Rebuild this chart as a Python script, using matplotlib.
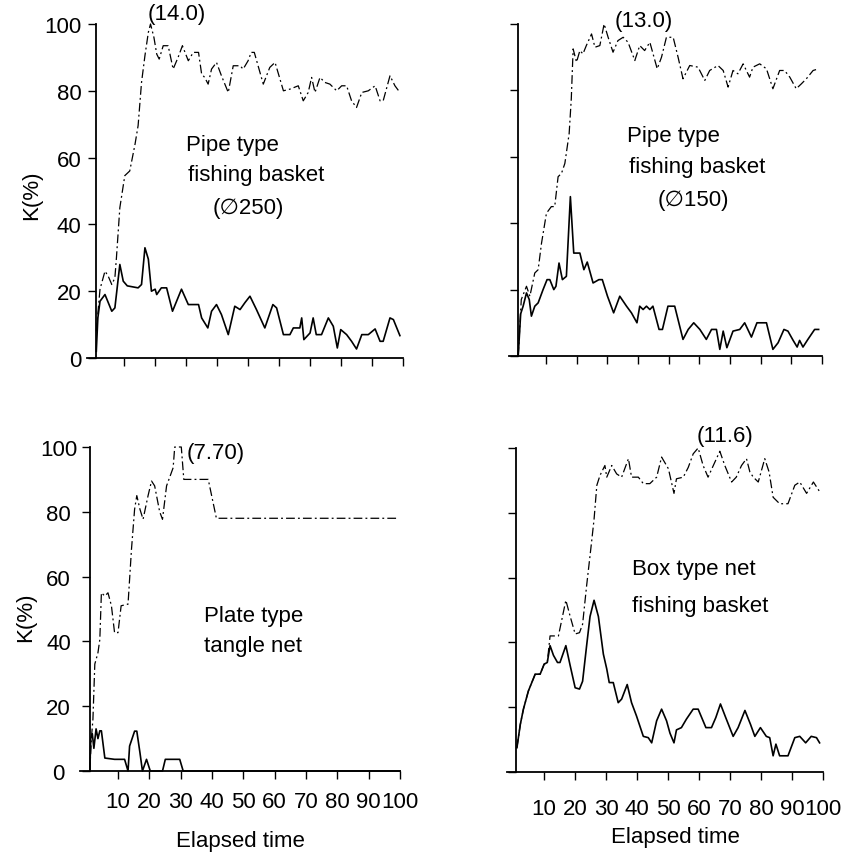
import matplotlib.pyplot as plt
import numpy as np

plt.rcParams['font.family'] = ['Liberation Sans', 'DejaVu Sans']

# ---- Pipe type fishing basket (phi 250) ----
t_p250_solid = [1, 1.5, 2.2, 3.8, 6, 7, 8.6, 9.7, 11, 14.5, 15.6, 16.7, 17.8, 18.8, 20, 20.5,
                22, 23.7, 25.6, 28.5, 30.7, 34, 35, 37, 38.2, 39.8, 41.4, 43.6, 45.7, 47.4,
                49, 50.6, 52.7, 55.4, 58, 59.2, 61.4, 63.5, 64.6, 66.7, 67.3, 68, 70, 71, 72,
                73.7, 75.9, 77.5, 78.8, 79.9, 81.8, 83.4, 85, 86.7, 88.8, 91, 92.6, 93.6,
                95.8, 96.9, 99]
k_p250_solid = [2, 12, 17, 19, 14, 15, 28, 23, 21.6, 21, 22, 33, 29.6, 20, 20.6, 19,
                21, 21, 14, 20.6, 16, 16, 12, 9, 14, 16, 13, 7, 15.5, 14.5,
                16.6, 18.5, 14.5, 9, 16, 15, 7, 7, 9, 9, 12, 5.5, 7.5, 12, 7,
                7, 12, 9.5, 3, 8.5, 7, 5, 2.7, 7, 7, 8.7, 5, 5,
                12, 11.5, 6.7]
t_p250_dash = [1, 2.2, 3.8, 4.8, 6, 7, 7.5, 8.6, 10.2, 11.8, 13.5, 14.5, 15.6, 16.7, 17.8,
               18.5, 19.6, 20.5, 21.3, 22.6, 24.2, 25.8, 27.4, 28.8, 30.7, 32.3, 34, 35,
               36, 37.1, 38.2, 39.8, 41.4, 43.6, 45.2, 47.4, 48.4, 50, 51, 52, 54.9, 57,
               58.7, 61.4, 63.5, 66.2, 67.8, 69.4, 70.5, 71.6, 73.2, 74.8, 76.4, 78.6,
               80.2, 81.8, 83.4, 85, 86.7, 88.8, 91, 92.6, 93.6, 95.8, 97.4, 99]
k_p250_dash = [8, 20.6, 26, 24.6, 22, 24, 30, 45, 54.6, 56, 64, 69.6, 82.5, 90.5, 97.5,
               100, 96, 91, 89.5, 93.5, 93.5, 86.5, 90, 93.5, 89, 91.5, 91.5, 85,
               84, 82, 86.5, 88.5, 84.5, 79.5, 87.5, 87.5, 86.5, 89, 91.5, 91.5, 82, 87,
               88.5, 80, 80.5, 81.5, 77, 79.5, 84, 79.5, 84, 82.5, 82, 80,
               81.5, 81.5, 77, 75, 79.5, 80, 81.5, 77, 77, 84.5, 81.5, 79.5]

# ---- Pipe type fishing basket (phi 150) ----
t_p150_solid = [1, 1.8, 2.6, 3.7, 4.6, 5.3, 6.4, 7.5, 9.1, 10.4, 11.3, 12.6, 13.3, 14.3,
                15.4, 16.7, 18, 19.1, 21.1, 22.4, 23.5, 25.4, 27.3, 28.4, 30.1, 32.1, 34.1,
                36.3, 37.9, 39.7, 40.6, 41.7, 42.8, 43.9, 44.9, 46.9, 48, 49.8, 52, 54.7,
                56.4, 58.2, 60.2, 62.3, 64, 65.6, 66.7, 67.8, 69, 71, 73.2, 74.8, 77, 78.8,
                81.9, 84, 85.7, 87.6, 88.9, 90.6, 91.9, 92.7, 93.8, 95.4, 97.6, 98.9]
k_p150_solid = [0, 12.7, 15, 19, 17, 12, 15, 16, 20, 23, 23, 20, 21, 28,
                23, 24, 48, 31, 31, 26, 28.3, 22, 23, 23, 18, 13, 18,
                15, 13, 10, 15, 14, 15, 14, 15, 8, 8, 15, 15, 5,
                8, 10, 8, 5, 8, 8, 2, 7.5, 2.5, 7.5, 8, 10, 5.7, 10,
                10, 2, 4, 8, 7.5, 4.7, 2.7, 4.7, 2.7, 5, 8, 8]
t_p150_dash = [1, 2, 3.7, 4.8, 6.4, 7.5, 8.6, 10.2, 11.8, 12.9, 14, 15.1, 16.2, 17.6, 18.3,
               18.9, 20, 21.1, 22.1, 23.2, 24.9, 26, 27.6, 29, 30.3, 31.9, 33.5, 35.2,
               36.8, 39, 40.6, 42.2, 43.9, 46.3, 47.7, 49.3, 51.5, 53.1, 54.7, 56.9, 59.6,
               61.8, 63.4, 66.1, 67.8, 69.4, 71, 72.6, 74.3, 76.4, 77.5, 79.7, 81.9, 84,
               86.2, 87.8, 89.5, 91.6, 93.3, 94.9, 97.1, 98.9]
k_p150_dash = [0, 17, 21, 18, 25, 26, 34, 43, 45, 45, 54, 55, 58, 67, 77.5,
               92.5, 88.5, 92, 91, 93.5, 97, 93, 93.5, 100, 96, 91.5, 95, 96,
               94.5, 89, 93.5, 92, 94.5, 86.5, 90, 96, 96, 90, 83.5, 87.5, 87,
               83, 86, 87.5, 86, 81, 86, 85, 88, 84, 87, 88, 86.5, 80.5,
               86, 86, 84, 80.5, 82, 83.5, 86, 86.5]

# ---- Plate type tangle net ----
t_plate_solid = [1, 1.3, 1.8, 2.3, 3, 3.6, 4.2, 4.7, 5.8, 8.9, 12.1, 13.2, 13.7, 15.3, 16,
                 17, 17.8, 19.1, 20.3, 24.2, 25.1, 29.7, 30.8, 100]
k_plate_solid = [0, 10, 11.5, 7, 13, 10, 12.4, 12.4, 4, 3.6, 3.6, 0, 7.7, 12.3, 12.3,
                 5.7, 0, 3.6, 0, 0, 3.6, 3.6, 0, 0]
t_plate_dash = [1, 1.5, 2, 2.6, 3.6, 4.2, 4.7, 5.8, 6.8, 7.9, 8.9, 10, 11, 13.2, 14.3, 15.3,
                16, 17, 18, 19.6, 20.7, 21.7, 23.3, 24.2, 25.5, 27.6, 28.1, 30.2, 31, 38.8,
                41.4, 99]
k_plate_dash = [0, 10, 16, 33, 36.5, 40.6, 55, 54, 55, 51, 42.7, 42.7, 51, 51.5, 68.4, 80.8,
                85, 80.8, 77.7, 85, 89.5, 88, 80, 77.7, 88, 93.6, 100, 100, 90, 90,
                78, 78]

# ---- Box type net fishing basket ----
t_box_solid = [1.2, 2.3, 3.3, 4.9, 6, 7.1, 8.7, 10, 11, 11.9, 13, 14.3, 15.1, 17, 18.4, 20,
               21.4, 22.4, 23.7, 24.8, 26.1, 27.5, 29.1, 30.2, 31, 32.3, 33.9, 35, 36.8,
               38.2, 39.8, 42, 43.6, 44.7, 46.3, 47.9, 49.5, 50.6, 51.9, 52.7, 54.3, 55.9,
               58.1, 59.7, 62.2, 64, 65.4, 66.9, 68.6, 71, 72.6, 74.8, 76.6, 78, 79.8,
               81.7, 82.8, 83.9, 84.8, 86, 88.7, 90.9, 92.5, 94.4, 96.2, 97.9, 98.9]
k_box_solid = [7.5, 14.7, 19.4, 25, 27.6, 30.2, 30.2, 33.3, 33.8, 39, 36, 33.8, 33.8, 39,
               32.8, 26, 25.6, 28, 39, 48, 53, 48, 36.4, 31.8, 27.6, 27.6, 21.4, 22.5, 27,
               21.4, 17.3, 11, 10.6, 9, 15.8, 19.4, 15.8, 12, 9, 13, 13.7, 16.3,
               19.4, 19.4, 13.7, 13.7, 16.8, 21, 16.8, 11, 13.7, 19, 14.7, 11, 13.7,
               11, 10.6, 5, 8.6, 5, 5, 10.6, 11, 9, 11, 10.6, 9]
t_box_dash = [1.2, 2.3, 3.3, 4.9, 6, 7.1, 8.7, 10, 11, 11.9, 14.6, 17, 18.4, 20, 21.4, 22.4,
              23.7, 25.3, 26.1, 27, 28, 29.6, 30.2, 31.8, 33.4, 35, 37.2, 38.2, 40.4, 42,
              44.1, 46.3, 47.9, 50.1, 51.9, 52.7, 54.9, 56.5, 58.1, 59.7, 61.3, 62.9,
              64.6, 66.7, 68.3, 70.5, 72, 73.7, 75.3, 76.4, 77.5, 79.1, 81.2, 82.6, 83.9,
              86, 88.7, 90.9, 92.5, 94.7, 96.9, 99]
k_box_dash = [7.5, 14.7, 19.4, 25, 27.6, 30.2, 30.2, 33.3, 33.8, 42, 42, 53, 48, 42.6, 43,
              45.6, 57.5, 71, 78, 88.5, 91.5, 94.6, 91, 94.6, 92, 91, 96.7, 91, 91, 89,
              89, 91, 97.2, 93.6, 86, 90.5, 91, 94, 98.2, 100, 94.6, 91,
              94.6, 99, 94.6, 89.5, 91, 94.6, 96.7, 92.6, 91, 89.5, 96.7, 92.6, 84.8,
              82.8, 82.8, 88.5, 89.5, 86, 89.5, 86.4]

yticks = [0, 20, 40, 60, 80, 100]
xticks = [10, 20, 30, 40, 50, 60, 70, 80, 90, 100]

FS = 16
W, H = 841, 854
fig = plt.figure(figsize=(W / 100, H / 100), dpi=100)


def make_axes(l, r, top, bot):
    return fig.add_axes([l / W, (H - bot) / H, (r - l) / W, (bot - top) / H])


def style(ax, ylabels, xlabels):
    ax.set_xlim(-2, 100)
    ax.set_ylim(0, 100)
    ax.spines['top'].set_visible(False)
    ax.spines['right'].set_visible(False)
    ax.spines['left'].set_position(('data', 1))
    ax.spines['left'].set_linewidth(1.3)
    ax.spines['bottom'].set_linewidth(1.3)
    ax.set_yticks(yticks)
    ax.set_xticks(xticks)
    ax.tick_params(direction='out', length=5.5, width=1, labelsize=FS)
    if not ylabels:
        ax.set_yticklabels([])
    if not xlabels:
        ax.set_xticklabels([])


dash = (0, (7, 2.5, 1.5, 2.5))

# top left
ax1 = make_axes(87, 403, 25, 359)
style(ax1, True, False)
ax1.tick_params(axis='y', pad=5)
ax1.plot(t_p250_dash, k_p250_dash, color='black', lw=0.9, ls=dash, clip_on=False)
ax1.plot(t_p250_solid, k_p250_solid, color='black', lw=1.2, clip_on=False)
ax1.text(17.7, 103, '(14.0)', fontsize=FS, ha='left', va='center', clip_on=False)
ax1.text(30, 64, 'Pipe type', fontsize=FS, ha='left', va='center')
ax1.text(30.6, 55, 'fishing basket', fontsize=FS, ha='left', va='center')
ax1.text(38.7, 45, '(\u2205250)', fontsize=FS, ha='left', va='center')

# top right
ax2 = make_axes(509, 822, 25, 357)
style(ax2, False, False)
ax2.plot(t_p150_dash, k_p150_dash, color='black', lw=0.9, ls=dash, clip_on=False)
ax2.plot(t_p150_solid, k_p150_solid, color='black', lw=1.2, clip_on=False)
ax2.text(32.5, 101, '(13.0)', fontsize=FS, ha='left', va='center', clip_on=False)
ax2.text(36.3, 66.5, 'Pipe type', fontsize=FS, ha='left', va='center')
ax2.text(37, 57, 'fishing basket', fontsize=FS, ha='left', va='center')
ax2.text(46.3, 47, '(\u2205150)', fontsize=FS, ha='left', va='center')

# bottom left
ax3 = make_axes(80.4, 400, 448, 772)
style(ax3, True, True)
ax3.tick_params(axis='y', pad=17)
ax3.tick_params(axis='x', pad=9)
for lab in ax3.get_yticklabels():
    lab.set_horizontalalignment('center')
ax3.plot(t_plate_dash, k_plate_dash, color='black', lw=0.9, ls=dash, clip_on=False)
ax3.plot(t_plate_solid, k_plate_solid, color='black', lw=1.2, clip_on=False)
ax3.text(31.8, 98.3, '(7.70)', fontsize=FS, ha='left', va='center', clip_on=False)
ax3.text(37.4, 48, 'Plate type', fontsize=FS, ha='left', va='center')
ax3.text(37.4, 38.8, 'tangle net', fontsize=FS, ha='left', va='center')

# bottom right
ax4 = make_axes(507, 823, 449, 773)
style(ax4, False, True)
ax4.tick_params(axis='x', pad=13)
ax4.plot(t_box_dash, k_box_dash, color='black', lw=0.9, ls=dash, clip_on=False)
ax4.plot(t_box_solid, k_box_solid, color='black', lw=1.2, clip_on=False)
ax4.text(59.2, 104, '(11.6)', fontsize=FS, ha='left', va='center', clip_on=False)
ax4.text(38.5, 62.7, 'Box type net', fontsize=FS, ha='left', va='center')
ax4.text(38.5, 51.3, 'fishing basket', fontsize=FS, ha='left', va='center')

# axis titles
fig.text(32 / W, 1 - 195 / H, 'K(%)', fontsize=FS, rotation=90, ha='center', va='center')
fig.text(26 / W, 1 - 617 / H, 'K(%)', fontsize=FS, rotation=90, ha='center', va='center')
fig.text(240 / W, 1 - 842 / H, 'Elapsed time', fontsize=FS, ha='center', va='center')
fig.text(675 / W, 1 - 838 / H, 'Elapsed time', fontsize=FS, ha='center', va='center')

fig.savefig('out.png', dpi=100)
